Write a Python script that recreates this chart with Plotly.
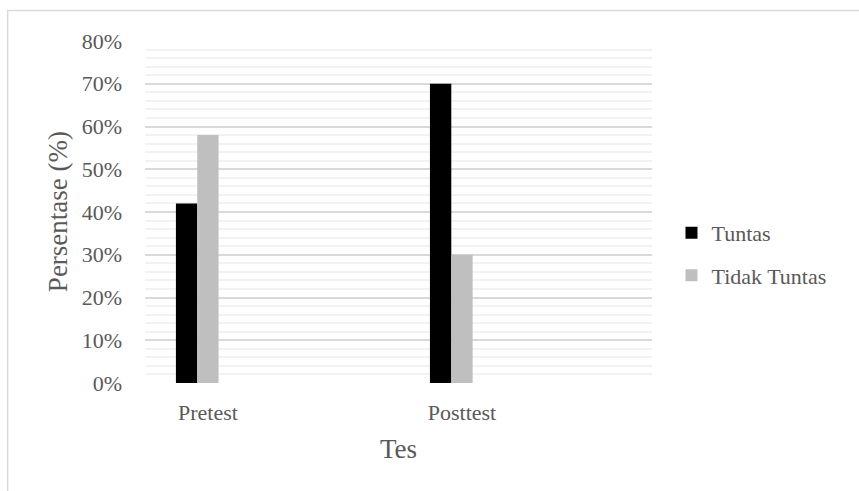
import plotly.graph_objects as go

categories = ["Pretest", "Posttest"]
tuntas = [0.42, 0.70]
tidak_tuntas = [0.58, 0.30]
series_names = ["Tuntas", "Tidak Tuntas"]
y_title = "Persentase (%)"
x_title = "Tes"

FONT = "Liberation Serif, Times New Roman, serif"
TXT = "#595959"

fig = go.Figure()
fig.add_trace(go.Bar(x=categories, y=tuntas, name=series_names[0],
                     marker=dict(color="#000000", line=dict(width=0)),
                     width=0.084, offset=-0.126, legendgroup="a"))
fig.add_trace(go.Bar(x=categories, y=tidak_tuntas, name=series_names[1],
                     marker=dict(color="#bfbfbf", line=dict(width=0)),
                     width=0.084, offset=-0.042, legendgroup="b"))

W, H = 859, 491
L, R, T, B = 145, 652.5, 41, 383.3
pw, ph = R - L, B - T

def px2paper_x(px):
    return (px - L) / pw

def px2paper_y(py):
    return (B - py) / ph

fig.update_layout(
    width=W, height=H,
    margin=dict(l=L, r=W - R, t=T, b=H - B, autoexpand=False),
    paper_bgcolor="white", plot_bgcolor="white",
    font=dict(family=FONT, size=22, color=TXT),
    showlegend=True,
    legend=dict(x=px2paper_x(672), y=px2paper_y(212), xanchor="left", yanchor="top",
                font=dict(family=FONT, size=22, color=TXT),
                tracegroupgap=11, bgcolor="rgba(0,0,0,0)"),
    xaxis=dict(type="category", range=[-0.2477, 1.748], showgrid=False,
               showline=False, zeroline=False, ticks="", ticklabelstandoff=14,
               tickfont=dict(family=FONT, size=22, color=TXT),
               title=dict(text=x_title, standoff=15,
                          font=dict(family=FONT, size=27, color=TXT))),
    yaxis=dict(range=[0, 0.8], dtick=0.1, tickformat=".0%",
               showgrid=True, gridcolor="#d9d9d9", gridwidth=1.5,
               minor=dict(dtick=0.02, showgrid=True, gridcolor="#f2f2f2", gridwidth=1.5),
               zeroline=False, showline=False, ticks="", ticklabelstandoff=22,
               tickfont=dict(family=FONT, size=22, color=TXT)),
    annotations=[dict(text=y_title, xref="paper", yref="paper",
                      x=px2paper_x(57.5), y=px2paper_y(211.7), textangle=-90,
                      showarrow=False, xanchor="center", yanchor="middle",
                      font=dict(family=FONT, size=27, color=TXT))],
    shapes=[dict(type="rect", xref="paper", yref="paper",
                 x0=px2paper_x(7.5), x1=px2paper_x(880),
                 y0=px2paper_y(520), y1=px2paper_y(10.5),
                 line=dict(color="#d9d9d9", width=1.5), fillcolor="rgba(0,0,0,0)",
                 layer="below")],
)

fig.write_html("out.html", config={"displayModeBar": False},
               post_script="document.body.style.margin='0';document.body.style.overflow='hidden';")
